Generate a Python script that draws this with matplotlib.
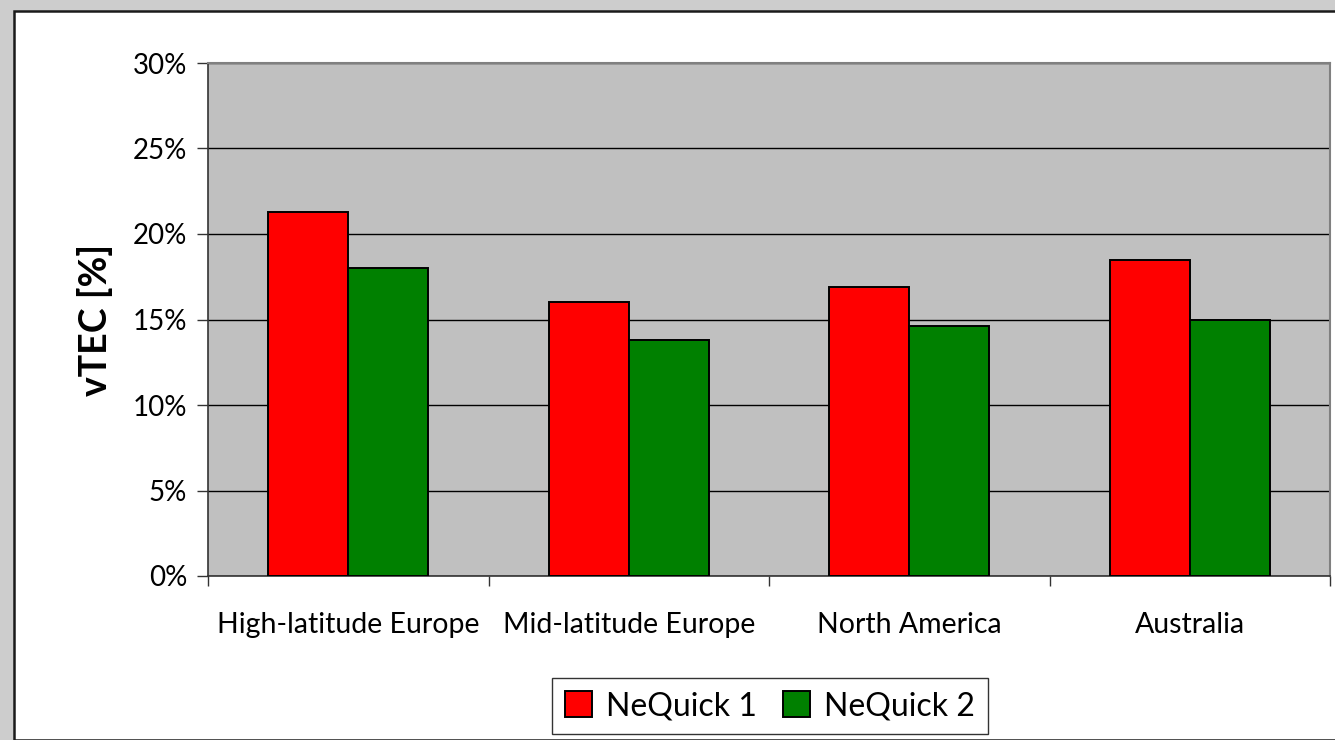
import matplotlib
matplotlib.use("Agg")
import matplotlib.pyplot as plt
from matplotlib.patches import Rectangle
from matplotlib.ticker import FuncFormatter, MultipleLocator
import numpy as np

regions = ["High-latitude Europe", "Mid-latitude Europe", "North America", "Australia"]
nequick1 = [21.3, 16.0, 16.9, 18.5]
nequick2 = [18.0, 13.8, 14.6, 15.0]
series_names = ["NeQuick 1", "NeQuick 2"]
series_colors = ["#ff0000", "#008000"]

plt.rcParams["font.family"] = ["Lato", "DejaVu Sans"]

W, H = 1335, 740
fig = plt.figure(figsize=(W / 100, H / 100), dpi=100, facecolor="#cdcdcd")

# white chart panel with a dark frame, kept underneath the axes
fig.patches.append(Rectangle((14 / W, 0), 1.0, 1 - 11 / H, transform=fig.transFigure,
                             facecolor="white", edgecolor="#1a1a1a", linewidth=1.8,
                             zorder=-5))

ax = fig.add_axes([208 / W, 1 - 576 / H, (1330 - 208) / W, (576 - 63) / H])
ax.set_zorder(2)
ax.set_facecolor("#c0c0c0")

x = np.arange(len(regions))
bw = 0.285
ax.bar(x - bw / 2, nequick1, width=bw, color=series_colors[0], edgecolor="black",
       linewidth=1.4, zorder=3, label=series_names[0])
ax.bar(x + bw / 2, nequick2, width=bw, color=series_colors[1], edgecolor="black",
       linewidth=1.4, zorder=3, label=series_names[1])

ax.set_xlim(-0.5, len(regions) - 0.5)
ax.set_ylim(0, 30)
ax.yaxis.set_major_locator(MultipleLocator(5))
ax.yaxis.set_major_formatter(FuncFormatter(lambda v, _: f"{v:.0f}%"))
ax.grid(axis="y", color="black", linewidth=1.0, zorder=1)

ax.set_xticks(x)
ax.set_xticklabels(regions, fontsize=20.5)
ax.tick_params(axis="x", length=0, pad=26)
ax.set_xticks(np.arange(len(regions) + 1) - 0.5, minor=True)
ax.tick_params(axis="x", which="minor", length=7, width=1, color="#333333", direction="out")
ax.tick_params(axis="y", labelsize=20, length=8, width=1, color="#333333", pad=7)

for side in ["top", "right"]:
    ax.spines[side].set_color("#808080")
    ax.spines[side].set_linewidth(1.5)
ax.spines["left"].set_color("#333333")
ax.spines["bottom"].set_color("#333333")
ax.spines["left"].set_linewidth(1.2)
ax.spines["bottom"].set_linewidth(1.2)

ax.set_ylabel("vTEC [%]", fontsize=27, fontweight="bold", labelpad=14)

leg = fig.legend(loc="center", bbox_to_anchor=(770 / W, 1 - 706 / H), ncol=2,
                 fontsize=23, frameon=True, fancybox=False, edgecolor="black",
                 handlelength=0.85, handleheight=0.85, handletextpad=0.45,
                 columnspacing=0.8, borderpad=0.4)
leg.get_frame().set_linewidth(1.0)

fig.savefig("out.png", dpi=100, facecolor=fig.get_facecolor())
